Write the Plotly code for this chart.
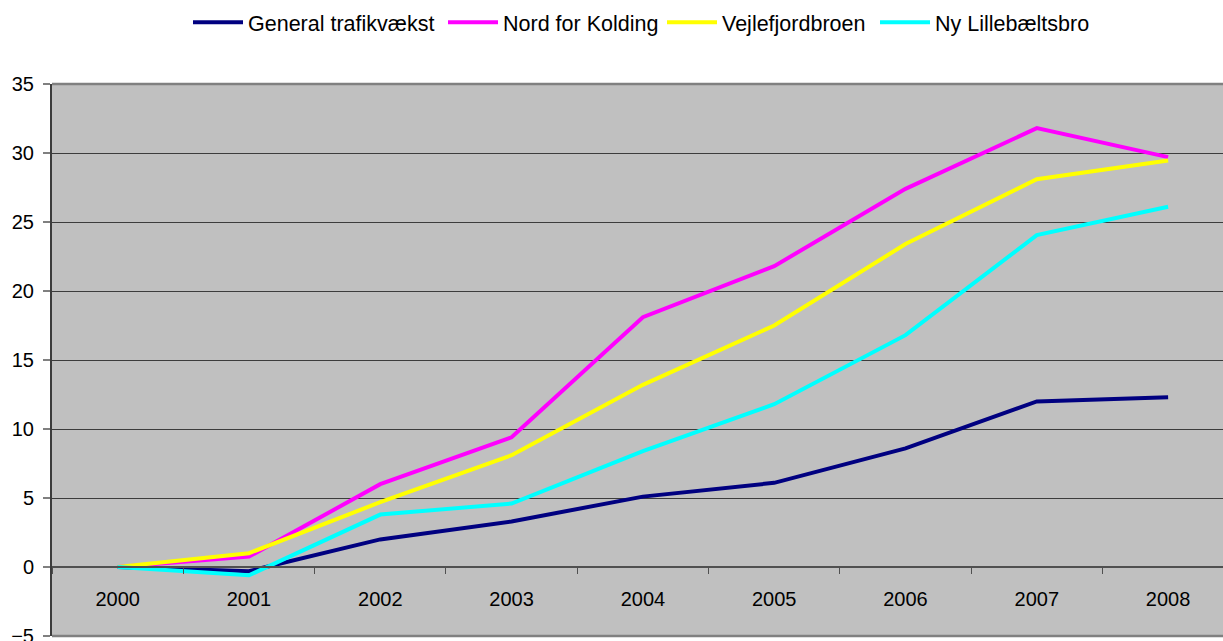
import plotly.graph_objects as go

years = ["2000", "2001", "2002", "2003", "2004", "2005", "2006", "2007", "2008"]
general = [0, -0.3, 2.0, 3.3, 5.1, 6.1, 8.6, 12.0, 12.3]
nord_kolding = [0, 0.75, 6.0, 9.4, 18.1, 21.8, 27.4, 31.8, 29.7]
vejlefjord = [0, 1.0, 4.7, 8.1, 13.2, 17.5, 23.4, 28.1, 29.45]
lillebaelt = [0, -0.6, 3.8, 4.6, 8.4, 11.8, 16.8, 24.05, 26.1]

series = [
    ("General trafikvækst", general, "#000080"),
    ("Nord for Kolding", nord_kolding, "#FF00FF"),
    ("Vejlefjordbroen", vejlefjord, "#FFFF00"),
    ("Ny Lillebæltsbro", lillebaelt, "#00FFFF"),
]

FONT = "Liberation Sans, Arial, sans-serif"
PLOT_LEFT, PLOT_W = 52, 1171
# pixel x where each legend entry (line sample) starts in the reference
legend_starts = [193, 448, 667, 880]
legend_names = ["legend", "legend2", "legend3", "legend4"]

fig = go.Figure()
for (name, vals, col), lg in zip(series, legend_names):
    fig.add_trace(go.Scatter(
        x=years, y=vals, name=name, mode="lines",
        line=dict(color=col, width=4), legend=lg,
    ))

legend_layout = {}
for lg, px in zip(legend_names, legend_starts):
    legend_layout[lg] = dict(
        orientation="h", x=(px - 5 - PLOT_LEFT) / PLOT_W, xanchor="left",
        y=1.112, yanchor="middle",
        font=dict(family=FONT, size=21.5, color="black"),
        bgcolor="rgba(0,0,0,0)", itemwidth=50, borderwidth=0,
    )

fig.update_layout(
    width=1223, height=641,
    margin=dict(l=52, r=0, t=84, b=5, autoexpand=False),
    paper_bgcolor="white",
    plot_bgcolor="#C0C0C0",
    font=dict(family=FONT, size=20, color="black"),
    showlegend=True,
    xaxis=dict(
        type="category",
        range=[-0.5, 8.418],
        anchor="free", position=0.125, automargin=False,
        showline=True, linecolor="#505050", linewidth=1.5,
        ticks="outside", tickson="boundaries", ticklen=6, tickwidth=1, tickcolor="#505050",
        showgrid=False, zeroline=False,
        ticklabelstandoff=14,
        tickfont=dict(family=FONT, size=20, color="black"),
    ),
    yaxis=dict(
        range=[-5, 35], dtick=5, tick0=0, automargin=False,
        showline=True, linecolor="#3c3c3c", linewidth=2,
        ticks="outside", ticklen=7, tickwidth=1.5, tickcolor="#808080",
        showgrid=True, gridcolor="#3c3c3c", gridwidth=1.2,
        zeroline=False,
        ticklabelstandoff=5, ticklabeloverflow="allow",
        tickfont=dict(family=FONT, size=20, color="black"),
    ),
    shapes=[
        dict(type="line", xref="paper", yref="paper", x0=0, x1=1, y0=1, y1=1,
             line=dict(color="#808080", width=2.5)),
        dict(type="line", xref="paper", yref="paper", x0=0, x1=1, y0=0, y1=0,
             line=dict(color="#808080", width=2.5)),
    ],
    **legend_layout,
)

fig.write_html(
    "out.html",
    config={"displayModeBar": False},
    post_script="document.body.style.margin='0';document.body.style.overflow='hidden';",
)
